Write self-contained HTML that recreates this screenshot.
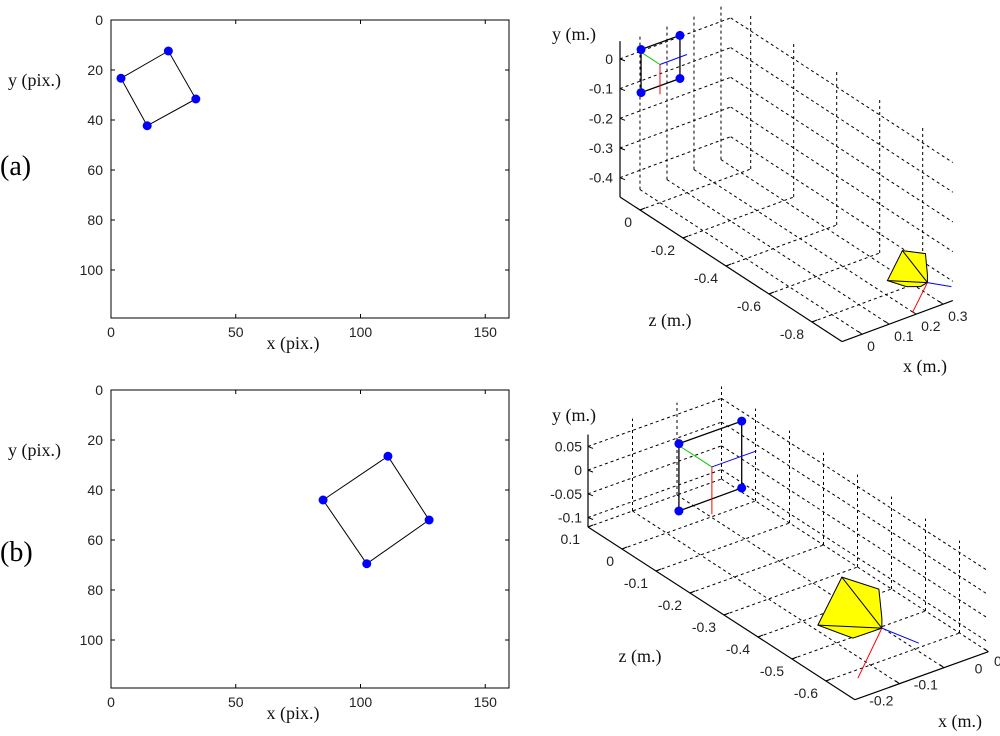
<!DOCTYPE html>
<html><head><meta charset="utf-8"><style>
html,body{margin:0;padding:0;background:#fff;}
svg{display:block;}
.tk{font-family:"Liberation Sans",sans-serif;font-size:14px;fill:#222;}
.tt{font-family:"Liberation Serif",serif;font-size:18px;fill:#111;}
</style></head><body>
<svg id="fig" width="1000" height="736" viewBox="0 0 1000 736" xmlns="http://www.w3.org/2000/svg"></svg>
<script>
// ---- 2D image-plane data ----
const ptsAx=[4,23,34,14.5];
const ptsAy=[23.3,12.4,31.6,42.3];
const ptsBx=[85,111,127.5,102.5];
const ptsBy=[44,26.5,52,69.5];
const xTicks2d=[0,50,100,150];
const yTicks2d=[0,20,40,60,80,100];
// ---- 3D panel (a) data ----
const aXTicks=[0,0.1,0.2,0.3];
const aYTicks=[0,-0.1,-0.2,-0.3,-0.4];
const aZTicks=[0,-0.2,-0.4,-0.6,-0.8];
const aTargetCenter=[0,0,0];
const aTargetCorners=[[0,0.009,0.088],[0.074,0.073,0],[0.074,-0.072,0],[0,-0.136,0.088]];
const aCamera=[0.25,-0.38,-0.93];
// ---- 3D panel (b) data ----
const bXTicks=[-0.2,-0.1,0];
const bYTicks=[0.05,0,-0.05,-0.1];
const bZTicks=[0.1,0,-0.1,-0.2,-0.3,-0.4,-0.5,-0.6];
const bTargetCenter=[-0.098,-0.015,0];
const bTargetCorners=[[0,0.004,0.097],[0.067,0.074,0],[0.067,-0.067,0],[0,-0.138,0.097]];
const bCamera=[-0.15,-0.074,-0.568];

const NS='http://www.w3.org/2000/svg';
const svg=document.getElementById('fig');
function el(tag,attrs){const e=document.createElementNS(NS,tag);for(const k in attrs)e.setAttribute(k,attrs[k]);svg.appendChild(e);return e;}
function fmt(v){let s=String(Math.round(v*100)/100);return s;}

// ================= 2D panels =================
function panel2d(oy,xs,ys,tag){
  const L=111,R=509,T=20+oy,B=318+oy;
  const X=v=>L+v*2.495, Y=v=>T+v*2.5;
  let r=el('rect',{x:L,y:T,width:R-L,height:B-T,fill:'none',stroke:'#000','stroke-width':1});
  
  
  xTicks2d.forEach(v=>{
    let t1=el('line',{x1:X(v),y1:B,x2:X(v),y2:B-4,stroke:'#000'});
    
    
    let t2=el('line',{x1:X(v),y1:T,x2:X(v),y2:T+4,stroke:'#000'});
    
    
    let lb=el('text',{x:X(v),y:B+19,'text-anchor':'middle',class:'tk'});lb.textContent=fmt(v);
    
    
  });
  yTicks2d.forEach(v=>{
    let t1=el('line',{x1:L,y1:Y(v),x2:L+4,y2:Y(v),stroke:'#000'});
    
    
    let t2=el('line',{x1:R,y1:Y(v),x2:R-4,y2:Y(v),stroke:'#000'});
    
    
    let lb=el('text',{x:103,y:Y(v)+5,'text-anchor':'end',class:'tk'});lb.textContent=fmt(v);
    
    
  });
  const pts=xs.map((v,i)=>X(v)+','+Y(ys[i])).join(' ');
  let pg=el('polygon',{points:pts,fill:'none',stroke:'#000','stroke-width':1});
  
  
  xs.forEach((v,i)=>{
    let c=el('circle',{cx:X(v),cy:Y(ys[i]),r:4.5,fill:'#0000ff'});
    
    
  });
  let xt=el('text',{x:293,y:B+31,'text-anchor':'middle',class:'tt'});xt.textContent='x (pix.)';
  
  
  let yt=el('text',{x:8,y:86+oy,class:'tt'});yt.textContent='y (pix.)';
  
  
  let pl=el('text',{x:0,y:175+oy+(oy?16:0),style:'font-family:"Liberation Serif",serif;font-size:28px'});pl.textContent='('+tag+')';
  
  
}
panel2d(0,ptsAx,ptsAy,'a');
panel2d(370,ptsBx,ptsBy,'b');

// ================= 3D panels =================
function panel3d(c){
  const P=(x,y,z)=>[c.o[0]+(x-c.xr[0])*c.bx[0]+(y-c.yr[0])*c.by[0]+(z-c.zr[1])*c.bz[0],
                    c.o[1]+(x-c.xr[0])*c.bx[1]+(y-c.yr[0])*c.by[1]+(z-c.zr[1])*c.bz[1]];
  const [x0,x1]=c.xr,[y0,y1]=c.yr,[z0,z1]=c.zr;
  function dl(a,b,name){let l=el('line',{x1:a[0],y1:a[1],x2:b[0],y2:b[1],stroke:'#000','stroke-width':1,'stroke-dasharray':'3,3'});
    
    }
  c.xt.forEach(x=>{dl(P(x,y0,z1),P(x,y1,z1),'grid-x-backwall');dl(P(x,y0,z1),P(x,y0,z0),'grid-x-floor');});
  c.yt.forEach(y=>{dl(P(x0,y,z1),P(x1,y,z1),'grid-y-backwall');dl(P(x1,y,z1),P(x1,y,z0),'grid-y-sidewall');});
  c.zt.forEach(z=>{dl(P(x1,y0,z),P(x1,y1,z),'grid-z-sidewall');dl(P(x0,y0,z),P(x1,y0,z),'grid-z-floor');});
  function sl(a,b,name,col,w){let l=el('line',{x1:a[0],y1:a[1],x2:b[0],y2:b[1],stroke:col,'stroke-width':w});
    
    return l;}
  sl(P(x0,y0,z1),P(x0,y1,z1),'y-axis-3d-'+c.tag,'#000',1.2);
  sl(P(x0,y0,z1),P(x0,y0,z0),'z-axis-3d-'+c.tag,'#000',1.2);
  sl(P(x0,y0,z0),P(x1,y0,z0),'x-axis-3d-'+c.tag,'#000',1.2);
  c.yt.forEach(y=>{const p=P(x0,y,z1);sl(p,[p[0]+5,p[1]+2],'y-tick-3d','#000',1);
    let t=el('text',{x:p[0]-c.yl[0],y:p[1]+c.yl[1],'text-anchor':'end',class:'tk'});t.textContent=fmt(y);
    
    });
  c.zt.forEach(z=>{const p=P(x0,y0,z);sl(p,[p[0]+5,p[1]-2],'z-tick-3d','#000',1);
    let t=el('text',{x:p[0]+c.zl[0],y:p[1]+c.zl[1],'text-anchor':'end',class:'tk'});t.textContent=fmt(z);
    
    });
  c.xt.forEach(x=>{const p=P(x,y0,z0);sl(p,[p[0]-4,p[1]-3],'x-tick-3d','#000',1);
    let t=el('text',{x:p[0]+c.xl[0],y:p[1]+c.xl[1],'text-anchor':c.xa,class:'tk'});t.textContent=fmt(x);
    
    });
  // target
  const cc=c.tc, cs=c.tcs.map(o=>P(cc[0]+o[0],cc[1]+o[1],cc[2]+o[2]));
  let tp=el('polygon',{points:cs.map(p=>p.join(',')).join(' '),fill:'none',stroke:'#000','stroke-width':1.3});
  
  
  const pc=P(cc[0],cc[1],cc[2]);
  sl(pc,P(cc[0],cc[1],cc[2]+0.09),'target-z-axis','#00cc00',1);
  sl(pc,P(cc[0]+0.1,cc[1],cc[2]),'target-x-axis','#0000ff',1);
  sl(pc,P(cc[0],cc[1]-0.1,cc[2]),'target-y-axis','#ff0000',1);
  cs.forEach(p=>{let q=el('circle',{cx:p[0],cy:p[1],r:4.5,fill:'#0000ff'});
    
    });
  // camera
  const a=P(c.cam[0],c.cam[1],c.cam[2]);
  let cp=el('polygon',{points:c.shape.map(o=>(a[0]+o[0])+','+(a[1]+o[1])).join(' '),fill:'#ffff00',stroke:'#000','stroke-width':1});
  
  
  c.inner.forEach(o=>sl(a,[a[0]+o[0],a[1]+o[1]],'camera-edge','#000',1));
  sl(a,[a[0]+c.red[0],a[1]+c.red[1]],'camera-y-axis','#ff0000',1);
  sl(a,[a[0]+c.blue[0],a[1]+c.blue[1]],'camera-x-axis','#0000ff',1);
  c.titles.forEach(t=>{let e=el('text',{x:t[1],y:t[2],'text-anchor':'middle',class:'tt'});e.textContent=t[0];
    
    });
}
panel3d({tag:'a',o:[620,197],bx:[270,-100],by:[0,-297],bz:[-215,-140],
  xr:[-0.074,0.336],yr:[-0.465,0.06],zr:[-0.94,0.093],
  xt:aXTicks,yt:aYTicks,zt:aZTicks,yl:[7,5],zl:[-8,17],xl:[5,17],xa:'start',
  tc:aTargetCenter,tcs:aTargetCorners,cam:aCamera,
  shape:[[-25,-32],[-2,-29],[0,-8],[0,0],[-7,4],[-21,4],[-40,-2]],inner:[[-25,-32],[-40,-2]],red:[-15,30],blue:[24,4],
  titles:[['y (m.)',574,40,'y-axis-title-3d'],['z (m.)',670,326,'z-axis-title-3d'],['x (m.)',925,372,'x-axis-title-3d']]});
panel3d({tag:'b',o:[588,527],bx:[445,-160],by:[0,-474],bz:[-340,-220],
  xr:[-0.3,0],yr:[-0.12,0.075],zr:[-0.685,0.1],
  xt:bXTicks,yt:bYTicks,zt:bZTicks,yl:[6,5],zl:[-8,17],xl:[-6,22],xa:'end',
  tc:bTargetCenter,tcs:bTargetCorners,cam:bCamera,
  shape:[[-40,-51],[-3,-39],[0,-10],[0,0],[-29,10],[-64,-3]],inner:[[-40,-51],[-64,-3]],red:[-24,50],blue:[37,15],
  titles:[['y (m.)',574,421,'y-axis-title-3d'],['z (m.)',640,662,'z-axis-title-3d'],['x (m.)',960,727,'x-axis-title-3d']]});
let cut=el('text',{x:994,y:666,class:'tk'});cut.textContent='0.1';


</script>
</body></html>
